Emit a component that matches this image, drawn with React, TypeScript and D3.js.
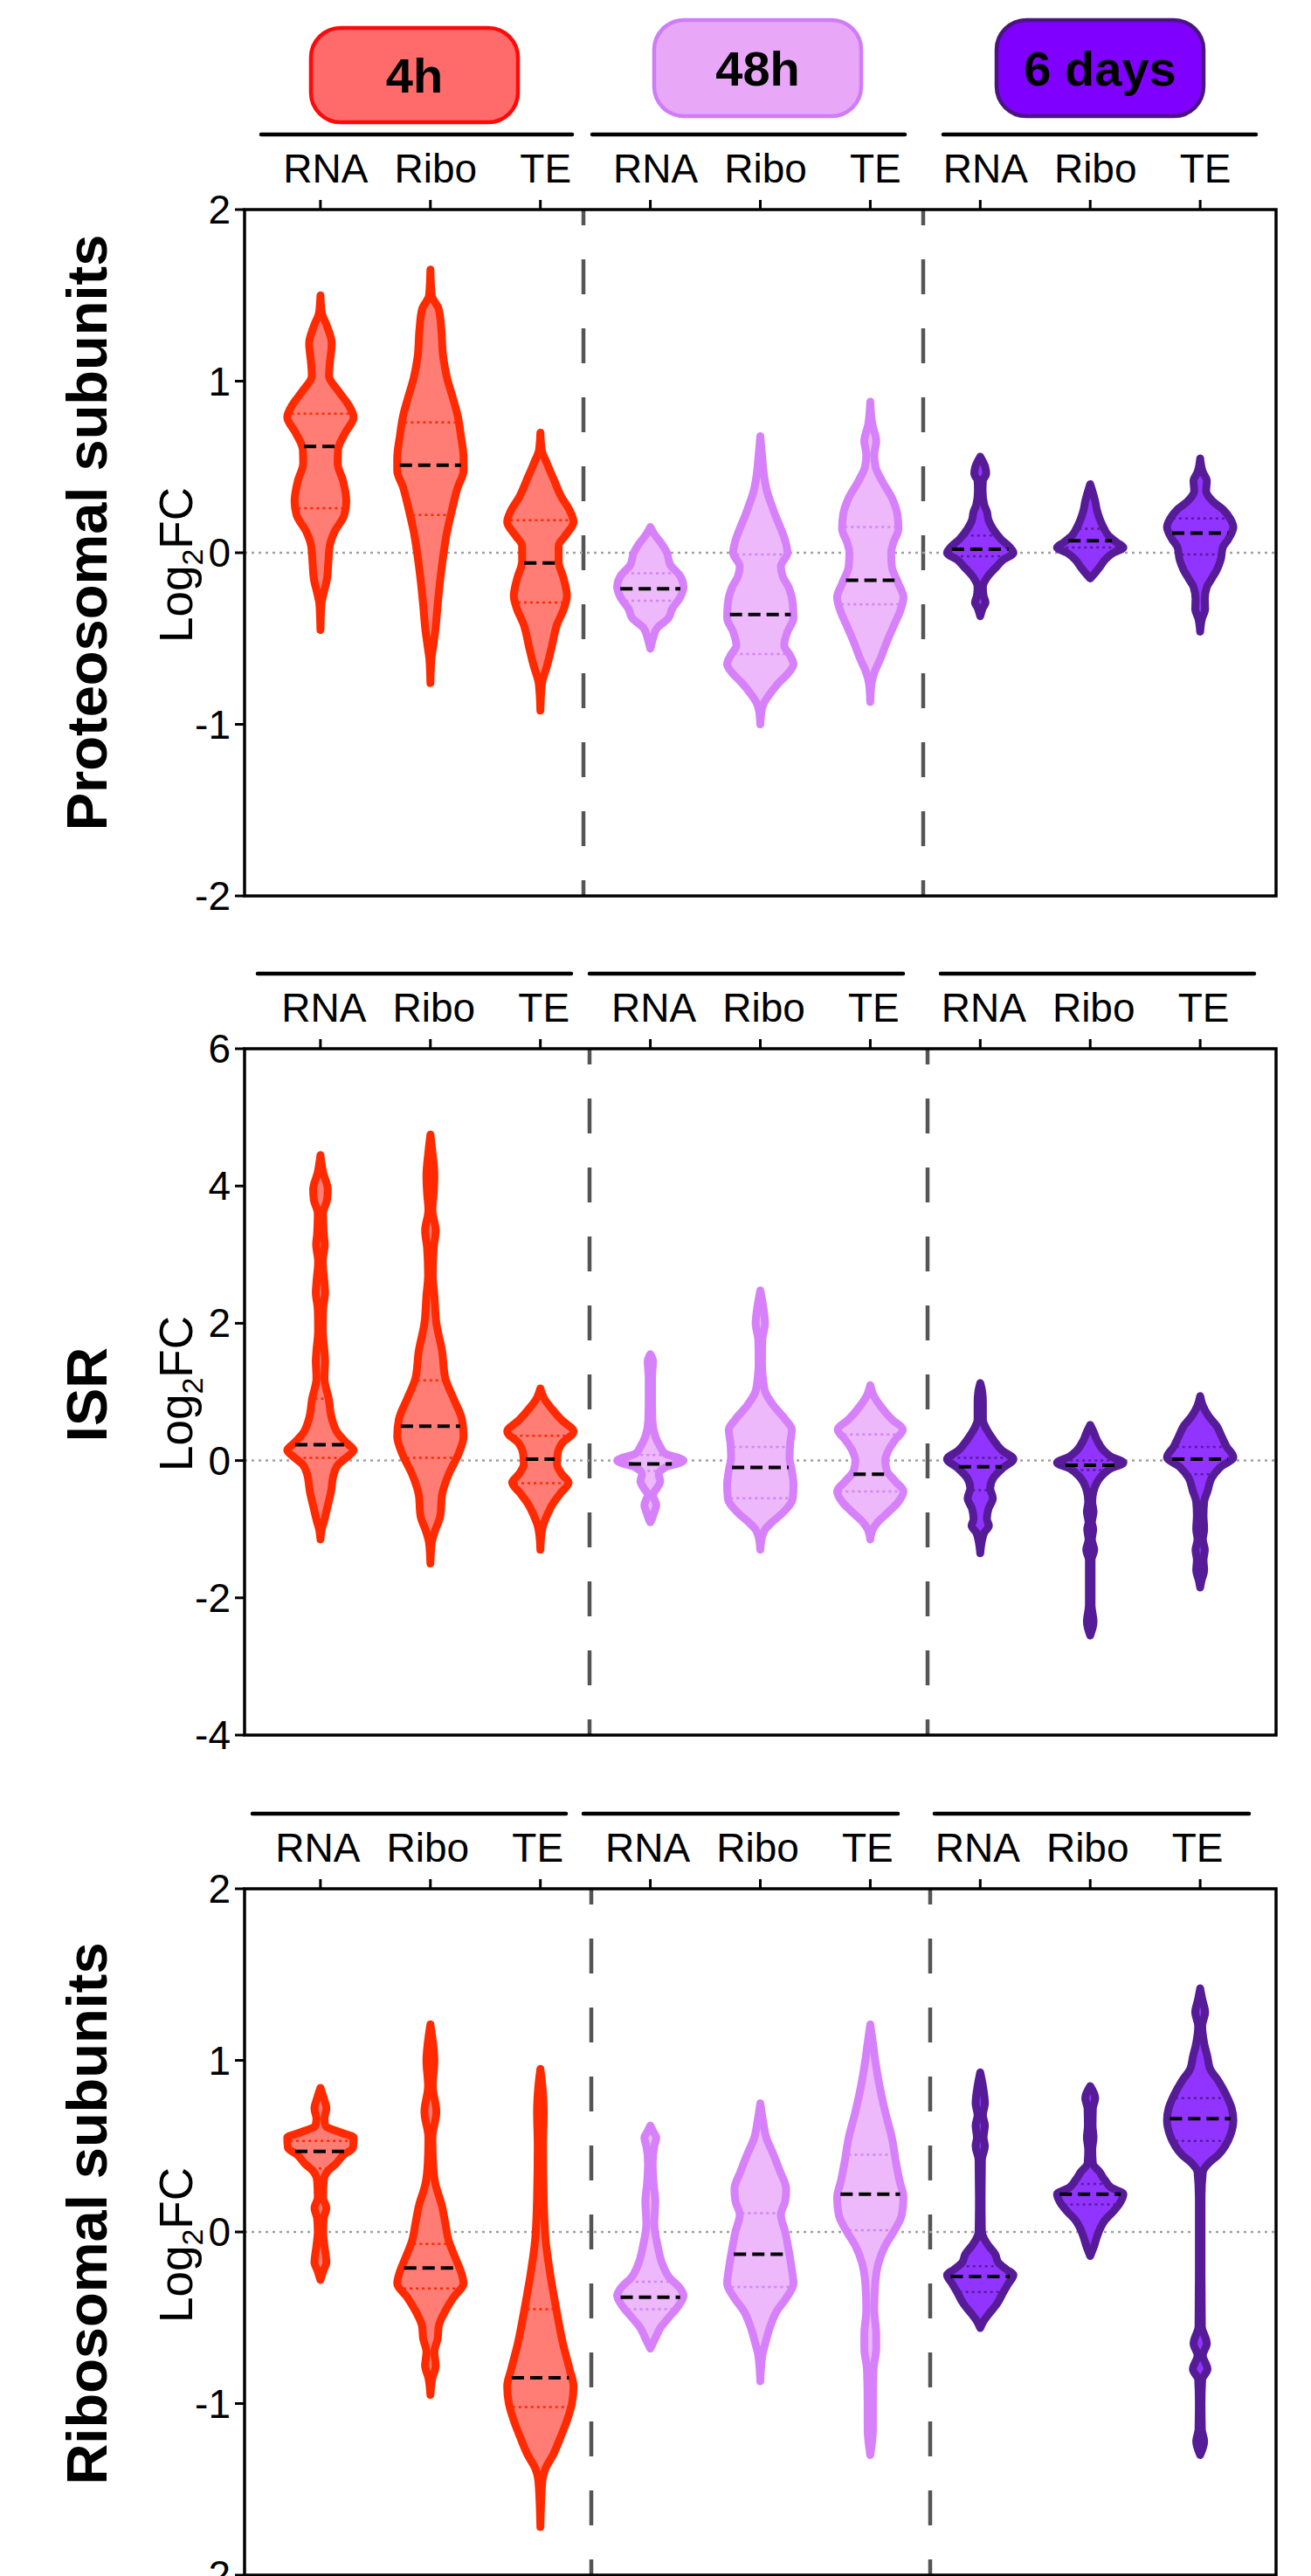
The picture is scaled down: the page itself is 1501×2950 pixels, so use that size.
import React from "react";
import * as d3 from "d3";

// ---------------- DATA ----------------
const GROUPS = ["4h", "48h", "6 days"];
const MEASURES = ["RNA", "Ribo", "TE"];
const PANEL_TITLES = ["Proteosomal subunits", "ISR", "Ribosomal subunits"];
const Y_DOMAINS: [number, number][] = [[-2, 2], [-4, 6], [-2, 2]];
const Y_TICKS = [[-2, -1, 0, 1, 2], [-4, -2, 0, 2, 4, 6], [-2, -1, 0, 1, 2]];

// Violin density profiles: [log2FC, relative half-width], ordered RNA/Ribo/TE for 4h, 48h, 6 days
const PROTEO_PROFILES: [number, number][][] = [
  [[1.5,0],[1.4,0.04],[1.32,0.2],[1.22,0.34],[1.1,0.28],[1.03,0.26],[0.94,0.55],[0.86,0.85],[0.79,1.0],[0.7,0.75],[0.6,0.53],[0.52,0.52],[0.42,0.68],[0.3,0.78],[0.22,0.72],[0.12,0.42],[0.04,0.28],[-0.05,0.24],[-0.15,0.2],[-0.25,0.08],[-0.3,0.03],[-0.45,0]],
  [[1.65,0],[1.5,0.04],[1.42,0.25],[1.3,0.33],[1.15,0.38],[1.02,0.5],[0.9,0.68],[0.8,0.82],[0.68,0.92],[0.55,1.0],[0.48,1.0],[0.38,0.82],[0.25,0.65],[0.12,0.5],[0.0,0.4],[-0.15,0.3],[-0.3,0.22],[-0.45,0.15],[-0.55,0.08],[-0.62,0.03],[-0.76,0]],
  [[0.7,0],[0.6,0.04],[0.52,0.2],[0.42,0.42],[0.33,0.62],[0.24,0.9],[0.18,1.0],[0.1,0.75],[0.04,0.55],[-0.05,0.55],[-0.15,0.7],[-0.25,0.8],[-0.32,0.72],[-0.42,0.5],[-0.55,0.34],[-0.66,0.2],[-0.76,0.05],[-0.8,0.03],[-0.92,0]],
  [[0.15,0],[0.1,0.15],[0.05,0.35],[0,0.5],[-0.07,0.6],[-0.13,0.88],[-0.2,1.0],[-0.26,0.9],[-0.33,0.65],[-0.38,0.55],[-0.44,0.2],[-0.5,0.08],[-0.56,0]],
  [[0.68,0],[0.55,0.06],[0.44,0.12],[0.36,0.2],[0.3,0.3],[0.22,0.45],[0.15,0.6],[0.07,0.75],[0.0,0.82],[-0.08,0.62],[-0.14,0.68],[-0.2,0.85],[-0.3,0.98],[-0.38,1.0],[-0.46,0.82],[-0.54,0.72],[-0.6,0.9],[-0.65,1.0],[-0.7,0.85],[-0.76,0.55],[-0.82,0.3],[-0.88,0.1],[-0.92,0.04],[-1.0,0]],
  [[0.88,0],[0.75,0.06],[0.65,0.18],[0.57,0.12],[0.5,0.16],[0.42,0.35],[0.32,0.65],[0.22,0.82],[0.14,0.85],[0.06,0.7],[0.0,0.63],[-0.08,0.65],[-0.18,0.85],[-0.26,1.0],[-0.34,0.9],[-0.42,0.72],[-0.52,0.5],[-0.62,0.3],[-0.7,0.12],[-0.76,0.04],[-0.87,0]],
  [[0.56,0],[0.5,0.15],[0.46,0.18],[0.42,0.08],[0.36,0.07],[0.28,0.12],[0.24,0.2],[0.19,0.25],[0.14,0.38],[0.08,0.62],[0.03,0.9],[0.0,1.0],[-0.04,0.7],[-0.09,0.45],[-0.14,0.22],[-0.2,0.08],[-0.25,0.1],[-0.29,0.16],[-0.32,0.08],[-0.37,0]],
  [[0.4,0],[0.35,0.08],[0.3,0.15],[0.25,0.2],[0.19,0.3],[0.14,0.42],[0.1,0.55],[0.06,0.8],[0.03,1.0],[0.0,0.7],[-0.04,0.45],[-0.08,0.3],[-0.11,0.18],[-0.15,0]],
  [[0.55,0],[0.47,0.08],[0.42,0.2],[0.36,0.18],[0.3,0.38],[0.25,0.7],[0.2,0.9],[0.15,1.0],[0.08,0.85],[0.03,0.68],[-0.04,0.62],[-0.1,0.5],[-0.15,0.35],[-0.2,0.2],[-0.27,0.14],[-0.33,0.15],[-0.38,0.06],[-0.46,0]],
];
const PROTEO_MEDIAN = [0.62, 0.51, -0.06, -0.21, -0.36, -0.16, 0.02, 0.07, 0.115];
const PROTEO_Q3 = [0.81, 0.76, 0.19, -0.12, -0.01, 0.15, 0.1, 0.14, 0.2];
const PROTEO_Q1 = [0.26, 0.22, -0.29, -0.28, -0.59, -0.3, -0.02, 0.03, -0.01];

const ISR_PROFILES: [number, number][][] = [
  [[4.45,0],[4.2,0.08],[3.95,0.22],[3.8,0.2],[3.6,0.08],[3.3,0.1],[3.15,0.13],[2.9,0.07],[2.6,0.12],[2.45,0.14],[2.2,0.08],[1.9,0.07],[1.6,0.12],[1.45,0.14],[1.2,0.12],[0.9,0.25],[0.6,0.35],[0.4,0.52],[0.25,0.8],[0.15,1.0],[0.05,0.8],[-0.05,0.55],[-0.2,0.4],[-0.45,0.32],[-0.7,0.2],[-0.9,0.1],[-1.0,0.04],[-1.15,0]],
  [[4.75,0],[4.5,0.06],[4.15,0.12],[3.9,0.1],[3.65,0.06],[3.35,0.16],[3.1,0.1],[2.7,0.07],[2.4,0.12],[2.0,0.18],[1.6,0.35],[1.2,0.45],[0.9,0.7],[0.6,0.95],[0.35,1.0],[0.1,0.85],[-0.2,0.55],[-0.5,0.35],[-0.8,0.3],[-1.05,0.12],[-1.2,0.04],[-1.5,0]],
  [[1.05,0],[0.9,0.12],[0.75,0.35],[0.6,0.62],[0.42,1.0],[0.25,0.65],[0.1,0.52],[-0.05,0.5],[-0.2,0.65],[-0.32,0.85],[-0.48,0.6],[-0.65,0.35],[-0.8,0.2],[-0.95,0.08],[-1.05,0.04],[-1.3,0]],
  [[1.55,0],[1.45,0.08],[1.2,0.05],[0.9,0.05],[0.6,0.06],[0.35,0.15],[0.2,0.3],[0.1,0.45],[0.0,1.0],[-0.1,0.45],[-0.2,0.25],[-0.3,0.3],[-0.4,0.2],[-0.5,0.08],[-0.65,0.18],[-0.75,0.12],[-0.85,0.05],[-0.9,0]],
  [[2.48,0],[2.2,0.1],[2.0,0.14],[1.75,0.06],[1.4,0.05],[1.2,0.08],[1.0,0.15],[0.8,0.4],[0.6,0.75],[0.45,0.95],[0.25,0.9],[0.05,0.88],[-0.15,0.95],[-0.35,1.0],[-0.55,0.98],[-0.75,0.7],[-0.9,0.35],[-1.0,0.15],[-1.1,0.06],[-1.3,0]],
  [[1.1,0],[0.95,0.1],[0.8,0.3],[0.6,0.65],[0.45,0.98],[0.3,0.75],[0.15,0.55],[0.0,0.45],[-0.15,0.5],[-0.3,0.75],[-0.45,1.0],[-0.6,0.85],[-0.75,0.55],[-0.9,0.22],[-1.0,0.08],[-1.15,0]],
  [[1.13,0],[1.0,0.06],[0.85,0.08],[0.6,0.08],[0.45,0.2],[0.3,0.4],[0.15,0.65],[0.02,1.0],[-0.1,0.7],[-0.25,0.4],[-0.4,0.3],[-0.55,0.38],[-0.7,0.25],[-0.85,0.2],[-0.95,0.26],[-1.05,0.12],[-1.2,0.04],[-1.35,0]],
  [[0.52,0],[0.42,0.1],[0.3,0.2],[0.15,0.4],[0.05,0.65],[-0.03,1.0],[-0.12,0.6],[-0.22,0.35],[-0.32,0.2],[-0.45,0.1],[-0.6,0.06],[-0.75,0.1],[-0.9,0.05],[-1.0,0.09],[-1.15,0.05],[-1.3,0.12],[-1.45,0.04],[-1.8,0.04],[-2.1,0.04],[-2.35,0.1],[-2.55,0]],
  [[0.94,0],[0.8,0.08],[0.65,0.25],[0.5,0.5],[0.35,0.65],[0.2,0.8],[0.05,1.0],[-0.1,0.6],[-0.25,0.35],[-0.45,0.22],[-0.6,0.12],[-0.8,0.1],[-1.0,0.12],[-1.15,0.08],[-1.3,0.14],[-1.45,0.1],[-1.6,0.12],[-1.75,0.04],[-1.85,0]],
];
const ISR_MEDIAN = [0.23, 0.5, 0.02, -0.05, -0.1, -0.2, -0.09, -0.07, 0.02];
const ISR_Q3 = [0.9, 1.17, 0.36, 0.08, 0.2, 0.38, 0.04, 0.0, 0.2];
const ISR_Q1 = [0.04, 0.04, -0.33, -0.15, -0.55, -0.45, -0.43, -0.14, -0.2];

const RIBO_PROFILES: [number, number][][] = [
  [[0.84,0],[0.78,0.1],[0.72,0.18],[0.66,0.12],[0.62,0.15],[0.58,0.6],[0.55,1.0],[0.49,0.98],[0.45,0.7],[0.4,0.48],[0.35,0.2],[0.3,0.1],[0.2,0.08],[0.14,0.18],[0.08,0.1],[0.0,0.08],[-0.08,0.12],[-0.18,0.18],[-0.22,0.1],[-0.28,0]],
  [[1.21,0],[1.1,0.08],[1.0,0.12],[0.85,0.07],[0.7,0.18],[0.55,0.06],[0.4,0.08],[0.28,0.15],[0.15,0.35],[0.05,0.45],[-0.05,0.55],[-0.15,0.75],[-0.25,0.95],[-0.3,1.0],[-0.38,0.7],[-0.46,0.45],[-0.55,0.25],[-0.62,0.22],[-0.7,0.12],[-0.78,0.16],[-0.85,0.06],[-0.95,0]],
  [[0.95,0],[0.85,0.06],[0.7,0.1],[0.5,0.08],[0.2,0.1],[-0.05,0.16],[-0.25,0.3],[-0.45,0.48],[-0.65,0.68],[-0.8,0.88],[-0.9,1.0],[-1.0,0.95],[-1.1,0.8],[-1.2,0.6],[-1.3,0.38],[-1.38,0.15],[-1.45,0.06],[-1.72,0]],
  [[0.62,0],[0.58,0.1],[0.55,0.18],[0.5,0.12],[0.4,0.07],[0.28,0.1],[0.18,0.15],[0.05,0.12],[-0.08,0.22],[-0.18,0.35],[-0.26,0.55],[-0.33,0.9],[-0.37,1.0],[-0.43,0.85],[-0.5,0.55],[-0.56,0.3],[-0.62,0.15],[-0.68,0]],
  [[0.75,0],[0.65,0.08],[0.55,0.18],[0.45,0.4],[0.35,0.6],[0.25,0.78],[0.18,0.75],[0.1,0.62],[0.0,0.75],[-0.1,0.85],[-0.22,0.95],[-0.3,1.0],[-0.38,0.8],[-0.46,0.5],[-0.55,0.3],[-0.65,0.15],[-0.72,0.06],[-0.87,0]],
  [[1.21,0],[1.1,0.08],[1.0,0.15],[0.85,0.28],[0.7,0.45],[0.55,0.65],[0.4,0.78],[0.3,0.88],[0.2,1.0],[0.1,0.95],[0.0,0.7],[-0.08,0.45],[-0.18,0.25],[-0.3,0.15],[-0.45,0.12],[-0.6,0.18],[-0.68,0.18],[-0.8,0.1],[-1.0,0.08],[-1.15,0.08],[-1.3,0]],
  [[0.93,0],[0.85,0.08],[0.75,0.14],[0.68,0.08],[0.62,0.14],[0.55,0.1],[0.5,0.14],[0.42,0.05],[0.2,0.04],[0.0,0.05],[-0.04,0.12],[-0.08,0.25],[-0.13,0.45],[-0.18,0.55],[-0.22,0.8],[-0.25,1.0],[-0.3,0.85],[-0.35,0.7],[-0.42,0.5],[-0.48,0.25],[-0.52,0.1],[-0.56,0]],
  [[0.85,0],[0.78,0.15],[0.72,0.08],[0.62,0.07],[0.55,0.1],[0.48,0.06],[0.4,0.08],[0.35,0.28],[0.3,0.45],[0.26,0.62],[0.22,1.0],[0.17,0.9],[0.12,0.7],[0.07,0.45],[0.02,0.3],[-0.03,0.2],[-0.08,0.12],[-0.14,0]],
  [[1.42,0],[1.35,0.07],[1.28,0.15],[1.2,0.06],[1.1,0.12],[1.02,0.22],[0.95,0.3],[0.88,0.55],[0.8,0.78],[0.72,0.95],[0.65,1.0],[0.57,0.92],[0.5,0.75],[0.45,0.55],[0.4,0.25],[0.35,0.08],[0.2,0.04],[-0.2,0.04],[-0.55,0.05],[-0.65,0.2],[-0.72,0.08],[-0.8,0.22],[-0.86,0.06],[-1.0,0.04],[-1.15,0.05],[-1.22,0.12],[-1.3,0]],
];
const RIBO_MEDIAN = [0.47, -0.21, -0.85, -0.38, -0.13, 0.22, -0.26, 0.22, 0.66];
const RIBO_Q3 = [0.53, -0.07, -0.45, -0.29, 0.11, 0.45, -0.2, 0.28, 0.78];
const RIBO_Q1 = [0.37, -0.33, -1.02, -0.45, -0.32, 0.01, -0.35, 0.16, 0.53];

// ---------------- STYLE / LAYOUT ----------------
const GROUP_STYLE = [
  { fill: "#ff7d75", stroke: "#ff2a00", pillFill: "#ff6b6b", pillStroke: "#ff0a0a" },
  { fill: "#edb9fa", stroke: "#d681fa", pillFill: "#e9a8f7", pillStroke: "#d07cf9" },
  { fill: "#9234ff", stroke: "#561c98", pillFill: "#8000ff", pillStroke: "#4a1580" },
];
const FONT = "'Liberation Sans', Arial, Helvetica, sans-serif";
const W = 1501, H = 2950;
const PLOT_LEFT = 280, PLOT_RIGHT = 1461;
const PANEL_TOPS = [240, 1201, 2163];
const PANEL_H = 786;
const GROUP_LINES = [
  [[299, 655], [678, 1036], [1080, 1438]],
  [[295, 654], [675, 1034], [1077, 1436]],
  [[289, 648], [668, 1028], [1070, 1430]],
];
const LABEL_SHIFT = [6, 4, -3];
const SEPARATORS = [[668, 1057], [675, 1062], [677, 1065]];
const TITLE_Y = [610, 1597, 2535];
const YLAB_Y = [647, 1596, 2571];
const PILLS = [
  { x: 356, y: 32, w: 237, h: 108 },
  { x: 749, y: 23, w: 237, h: 110 },
  { x: 1141, y: 23, w: 237, h: 110 },
];
const HALF_W = 38;
const VIOLIN_STROKE = 9;

const PANELS = [
  { profiles: PROTEO_PROFILES, median: PROTEO_MEDIAN, q1: PROTEO_Q1, q3: PROTEO_Q3 },
  { profiles: ISR_PROFILES, median: ISR_MEDIAN, q1: ISR_Q1, q3: ISR_Q3 },
  { profiles: RIBO_PROFILES, median: RIBO_MEDIAN, q1: RIBO_Q1, q3: RIBO_Q3 },
];

const KEYS = GROUPS.flatMap((g) => MEASURES.map((m) => `${g}|${m}`));

function widthAt(prof: [number, number][], v: number) {
  for (let i = 0; i < prof.length - 1; i++) {
    const [a, wa] = prof[i];
    const [b, wb] = prof[i + 1];
    if (v <= a && v >= b) {
      const t = (a - v) / (a - b || 1);
      return wa + (wb - wa) * t;
    }
  }
  return 0;
}

function Panel({ idx }: { idx: number }) {
  const top = PANEL_TOPS[idx];
  const bottom = top + PANEL_H;
  const y = d3.scaleLinear().domain(Y_DOMAINS[idx]).range([bottom, top]);
  const x = d3.scalePoint<string>().domain(KEYS).range([PLOT_LEFT, PLOT_RIGHT]).padding(0.69);
  const data = PANELS[idx];

  return (
    <g>
      {GROUP_LINES[idx].map(([x0, x1], gi) => (
        <line key={"gl" + gi} x1={x0} x2={x1} y1={top - 86} y2={top - 86} stroke="#000" strokeWidth={4.5} strokeLinecap="round" />
      ))}
      {KEYS.map((k) => (
        <text key={"cl" + k} x={(x(k) as number) + LABEL_SHIFT[idx]} y={top - 31} textAnchor="middle" fontSize={46} fontFamily={FONT} fill="#000">
          {k.split("|")[1]}
        </text>
      ))}

      {SEPARATORS[idx].map((sx, si) => (
        <line key={"sep" + si} x1={sx} x2={sx} y1={top} y2={bottom} stroke="#555" strokeWidth={4.5} strokeDasharray="40 39" strokeDashoffset={22} />
      ))}
      <line x1={PLOT_LEFT} x2={PLOT_RIGHT} y1={y(0)} y2={y(0)} stroke="#a0a0a0" strokeWidth={2.5} strokeDasharray="3 5" />

      {KEYS.map((k, i) => {
        const cx = x(k) as number;
        const gi = Math.floor(i / 3);
        const st = GROUP_STYLE[gi];
        const prof = data.profiles[i];
        const area = d3
          .area<[number, number]>()
          .y((d) => y(d[0]))
          .x0((d) => cx - d[1] * HALF_W)
          .x1((d) => cx + d[1] * HALF_W)
          .curve(d3.curveMonotoneY);
        const seg = (v: number) => Math.max(0, widthAt(prof, v) * HALF_W - 3);
        const med = data.median[i];
        const q1 = data.q1[i];
        const q3 = data.q3[i];
        return (
          <g key={"v" + k}>
            <path d={area(prof) || ""} fill={st.fill} stroke={st.stroke} strokeWidth={VIOLIN_STROKE} strokeLinejoin="round" />
            {[q1, q3].map((q, qi) => (
              <line key={"q" + qi} x1={cx - seg(q)} x2={cx + seg(q)} y1={y(q)} y2={y(q)} stroke={st.stroke} strokeWidth={2.5} strokeDasharray="3 4" />
            ))}
            <line x1={cx - seg(med)} x2={cx + seg(med)} y1={y(med)} y2={y(med)} stroke="#000" strokeWidth={4} strokeDasharray="14 7" />
          </g>
        );
      })}

      <rect x={PLOT_LEFT} y={top} width={PLOT_RIGHT - PLOT_LEFT} height={PANEL_H} fill="none" stroke="#000" strokeWidth={3.5} />
      {KEYS.map((k) => (
        <line key={"tt" + k} x1={x(k) as number} x2={x(k) as number} y1={top} y2={top - 11} stroke="#000" strokeWidth={3} />
      ))}
      {Y_TICKS[idx].map((t) => (
        <g key={"yt" + t}>
          <line x1={PLOT_LEFT - 11} x2={PLOT_LEFT} y1={y(t)} y2={y(t)} stroke="#000" strokeWidth={3} />
          <text x={264} y={y(t) + 16} textAnchor="end" fontSize={46} fontFamily={FONT} fill="#000">
            {t}
          </text>
        </g>
      ))}

      <text transform={`translate(220, ${YLAB_Y[idx]}) rotate(-90)`} textAnchor="middle" fontSize={53} fontFamily={FONT} fill="#000">
        Log<tspan fontSize={34} dy={12}>2</tspan><tspan dy={-12}>FC</tspan>
      </text>
      <text transform={`translate(122, ${TITLE_Y[idx]}) rotate(-90)`} textAnchor="middle" fontSize={65} fontWeight="bold" fontFamily={FONT} fill="#000">
        {PANEL_TITLES[idx]}
      </text>
    </g>
  );
}

export default function App() {
  return (
    <svg width={W} height={H} viewBox={`0 0 ${W} ${H}`} style={{ position: "absolute", left: 0, top: 0, background: "#fff" }}>
      <rect x={0} y={0} width={W} height={H} fill="#fff" />
      {GROUPS.map((g, gi) => {
        const p = PILLS[gi];
        const st = GROUP_STYLE[gi];
        return (
          <g key={"pill" + g}>
            <rect x={p.x} y={p.y} width={p.w} height={p.h} rx={34} ry={34} fill={st.pillFill} stroke={st.pillStroke} strokeWidth={4.5} />
            <text x={p.x + p.w / 2} y={p.y + p.h / 2 + 20} textAnchor="middle" fontSize={56} fontWeight="bold" fontFamily={FONT} fill="#000">
              {g}
            </text>
          </g>
        );
      })}
      {[0, 1, 2].map((i) => (
        <Panel key={i} idx={i} />
      ))}
    </svg>
  );
}
